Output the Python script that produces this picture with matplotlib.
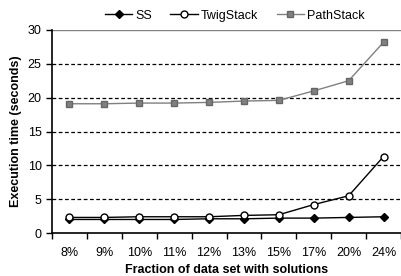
import numpy as np
import matplotlib.pyplot as plt

plt.rcParams['font.family'] = ['Liberation Sans', 'DejaVu Sans']

# Data
categories = ['8%', '9%', '10%', '11%', '12%', '13%', '15%', '17%', '20%', '24%']
ss = [2.0, 2.0, 2.0, 2.0, 2.1, 2.1, 2.2, 2.2, 2.3, 2.4]
twigstack = [2.3, 2.3, 2.4, 2.4, 2.4, 2.6, 2.7, 4.2, 5.5, 11.3]
pathstack = [19.1, 19.1, 19.2, 19.2, 19.3, 19.5, 19.6, 21.0, 22.5, 28.2]

x = np.arange(len(categories))

fig = plt.figure(figsize=(4.01, 2.76), dpi=100)
ax = fig.add_axes([52 / 401, 1 - 233 / 276, 349 / 401, 203 / 276])

# Grid lines
for y in [5, 10, 15, 20, 25]:
    ax.axhline(y, color='black', linestyle=(0, (3, 2)), linewidth=0.9, zorder=1)
ax.axhline(30, color='#808080', linewidth=1.0, zorder=1)

ax.plot(x, pathstack, color='#808080', marker='s', markersize=5, linewidth=1.0,
        markeredgecolor='#666666', markerfacecolor='#808080', label='PathStack', zorder=3)
ax.plot(x, ss, color='black', marker='D', markersize=4, linewidth=1.0,
        label='SS', zorder=4)
ax.plot(x, twigstack, color='black', marker='o', markersize=5, linewidth=1.0,
        markerfacecolor='white', markeredgecolor='black', label='TwigStack', zorder=5)

ax.set_xlim(-0.5, len(categories) - 0.5)
ax.set_ylim(0, 30)
ax.set_yticks([0, 5, 10, 15, 20, 25, 30])
ax.set_xticks(x)
ax.set_xticklabels(categories)
ax.set_xticks(np.arange(len(categories) + 1) - 0.5, minor=True)
ax.tick_params(axis='x', which='major', length=0, labelsize=9, pad=10)
ax.tick_params(axis='x', which='minor', length=4, direction='out', width=1)
ax.tick_params(axis='y', length=4, direction='out', labelsize=9, width=1)

for side in ['top', 'right']:
    ax.spines[side].set_visible(False)
ax.spines['left'].set_linewidth(1.2)
ax.spines['bottom'].set_linewidth(1.2)

ax.set_xlabel('Fraction of data set with solutions', fontsize=9, fontweight='bold', labelpad=4)
ax.set_ylabel('Execution time (seconds)', fontsize=9, fontweight='bold')

handles, labels = ax.get_legend_handles_labels()
order = [1, 2, 0]
fig.legend([handles[i] for i in order], [labels[i] for i in order],
           loc='upper center', bbox_to_anchor=(0.585, 1.005), ncol=3, frameon=False,
           fontsize=9, handlelength=2.2, columnspacing=1.5, handletextpad=0.2)

fig.savefig('out.png', dpi=100)
